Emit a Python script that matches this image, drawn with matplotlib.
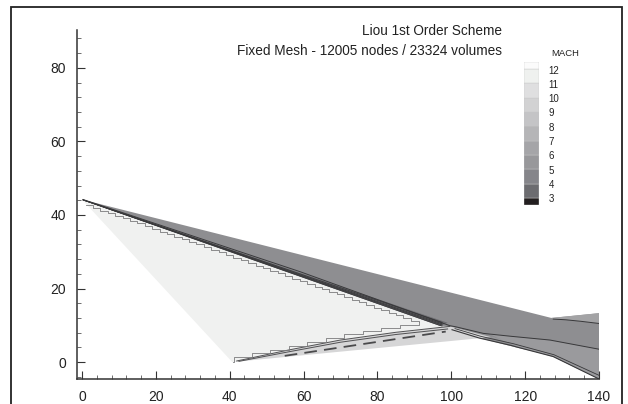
import matplotlib
matplotlib.use("Agg")
import matplotlib.pyplot as plt
from matplotlib.patches import Rectangle
from matplotlib.ticker import MultipleLocator
from matplotlib.transforms import blended_transform_factory

plt.rcParams['font.family'] = ['Liberation Sans', 'DejaVu Sans']

# ---------------- data ----------------
title_1 = "Liou 1st Order Scheme"
title_2 = "Fixed Mesh - 12005 nodes / 23324 volumes"
legend_title = "MACH"
legend_levels = [3, 4, 5, 6, 7, 8, 9, 10, 11, 12]
legend_colors = ['#231f20', '#6c6c70', '#85858a', '#98989b', '#a5a5a8',
                 '#b5b5b7', '#c4c4c6', '#d2d2d3', '#dfdfe0', '#eff1ef', '#fbfbfb']
x_ticks = [0, 20, 40, 60, 80, 100, 120, 140]
y_ticks = [0, 20, 40, 60, 80]

# filled regions (outline x / y)
band_x = [0.0, 127.1, 140.0, 140.0, 127.1, 116.3, 107.7, 100.2, 96.9]
band_y = [44.2, 12.0, 13.3, -4.6, 1.7, 4.3, 6.5, 8.8, 9.7]
right_top_x = [127.1, 140.0, 140.0, 131.0, 127.6]
right_top_y = [12.0, 13.3, 10.5, 11.5, 11.7]
right_low_x = [117.7, 127.6, 140.0, 140.0, 127.1, 116.3, 110.0]
right_low_y = [4.2, 1.4, -4.6, 3.5, 5.8, 7.0, 7.8]
light_x = [0.0, 40.7, 41.9, 56.0, 70.0, 85.0, 99.6, 97.0]
light_y = [44.2, 0.0, 0.3, 3.3, 6.0, 8.1, 9.7, 9.8]
wedge_x = [40.7, 110.9, 116.5, 99.6, 85.0, 70.0, 56.0, 41.9]
wedge_y = [0.0, 6.8, 5.3, 9.7, 8.1, 6.0, 3.3, 0.3]
strip_x = [0.3, 99.0, 97.0, 0.3]
strip_y = [44.2, 10.7, 9.8, 44.0]

# contour lines
dense_end_y = [9.8, 10.1, 10.4, 10.8]
dense_x0, dense_y0, dense_x1 = 0.3, 44.1, 97.5
mid_x = [0.3, 59.0, 99.6, 101.2, 108.7, 116.3, 126.7, 140.0]
mid_y = [44.2, 24.6, 9.9, 9.6, 7.8, 7.0, 6.0, 3.5]
top_r_x = [127.6, 131.0, 135.0, 140.0]
top_r_y = [11.7, 11.5, 11.1, 10.5]
bot_r_x = [100.2, 107.7, 116.3, 117.7, 127.6, 140.0]
bot_r_y = [8.8, 6.5, 4.5, 4.1, 1.5, -4.6]
bot_r2_x = [101.0, 108.0, 116.8, 127.8, 140.0]
bot_r2_y = [9.1, 7.0, 5.0, 2.0, -3.6]
smooth1_x = [41.9, 56.0, 70.0, 85.0, 99.6]
smooth1_y = [0.3, 3.3, 6.0, 8.1, 9.7]
smooth2_x = [42.5, 56.0, 70.0, 85.0, 99.0]
smooth2_y = [0.2, 2.8, 5.4, 7.5, 9.0]
dash_x = [54.9, 98.5]
dash_y = [1.7, 8.3]
step_up_x = [1, 3, 5, 7, 9, 11, 13, 15, 17, 19, 21, 23, 25, 27, 29, 31, 33,
             35, 37, 39, 41, 43, 45, 47, 49, 51, 53, 55, 57, 59, 61, 63, 65,
             67, 69, 71, 73, 75, 77, 79, 81, 83, 85, 87, 89, 91.2]
step_up_y = [42.6, 41.9, 41.2, 40.5, 39.8, 39.1, 38.4, 37.7, 36.9, 36.2, 35.5,
             34.8, 34.1, 33.4, 32.7, 32.0, 31.2, 30.5, 29.8, 29.1, 28.4, 27.7,
             27.0, 26.2, 25.5, 24.8, 24.1, 23.4, 22.7, 22.0, 21.3, 20.5, 19.8,
             19.1, 18.4, 17.7, 17.0, 16.3, 15.6, 14.8, 14.1, 13.4, 12.7, 12.0,
             11.3, 10.9]
step_lo_x = [40.9, 41.2, 46, 51, 56, 61, 66, 71, 76, 81, 86, 91.2]
step_lo_y = [0.1, 1.4, 2.4, 3.4, 4.5, 5.5, 6.6, 7.6, 8.5, 9.4, 10.2, 10.9]

# ---------------- figure ----------------
W, H = 628, 404
fig = plt.figure(figsize=(W / 100, H / 100), dpi=100)
ax = fig.add_axes([77 / W, 25 / H, (599 - 77) / W, (379 - 30) / H])
ax.set_xlim(-1.35, 140)
ax.set_ylim(-4.6, 90.3)

ax.fill(band_x, band_y, color='#8e8e91', lw=0)
ax.fill(right_top_x, right_top_y, color='#a3a3a5', lw=0)
ax.fill(right_low_x, right_low_y, color='#9a9a9d', lw=0)
ax.fill(wedge_x, wedge_y, color='#d6d6d7', lw=0)
ax.fill(light_x, light_y, color='#f0f1f0', lw=0)
ax.fill(strip_x, strip_y, color='#6e6e72', lw=0)

lc = '#38383a'
for ye in dense_end_y:
    ax.plot([dense_x0, dense_x1], [dense_y0, ye], color=lc, lw=0.6)
ax.plot(mid_x, mid_y, color=lc, lw=0.7)
ax.plot(top_r_x, top_r_y, color=lc, lw=0.7)
ax.plot(bot_r_x, bot_r_y, color=lc, lw=0.8)
ax.plot(bot_r2_x, bot_r2_y, color=lc, lw=0.6)
ax.plot(smooth1_x, smooth1_y, color='#505052', lw=0.7)
ax.plot(smooth2_x, smooth2_y, color='#505052', lw=0.7)
ax.plot(dash_x, dash_y, color='#4a4a4c', lw=1.3, dashes=(7, 4))
ax.plot(step_up_x, step_up_y, color='#7a7a7c', lw=0.6, drawstyle='steps-post')
ax.plot(step_lo_x, step_lo_y, color='#7a7a7c', lw=0.6, drawstyle='steps-post')

for s in ['top', 'right']:
    ax.spines[s].set_visible(False)
for s in ['left', 'bottom']:
    ax.spines[s].set_color('#333333')
    ax.spines[s].set_linewidth(1.1)
ax.set_xticks(x_ticks)
ax.set_yticks(y_ticks)
ax.xaxis.set_minor_locator(MultipleLocator(4))
ax.yaxis.set_minor_locator(MultipleLocator(4))
ax.tick_params(which='major', direction='in', length=6, width=0.8, color='#333333',
               labelsize=10, labelcolor='#222222', pad=8)
ax.tick_params(which='minor', direction='in', length=3, width=0.6, color='#555555')
ax.set_facecolor('none')

# titles
fig.text(502 / W, 1 - 31 / H, title_1, ha='right', va='center', fontsize=9.8, color='#222222')
fig.text(502 / W, 1 - 51 / H, title_2, ha='right', va='center', fontsize=9.8, color='#222222')

# legend
lax = fig.add_axes([524 / W, (H - 205) / H, 15 / W, 143 / H])
bottoms = [2.5] + legend_levels
heights = [0.5] + [1] * (len(legend_levels) - 1) + [0.5]
lax.bar([0] * len(bottoms), heights, bottom=bottoms, width=1, color=legend_colors,
        edgecolor='#c8c8c8', linewidth=0.3)
lax.set_xlim(-0.5, 0.5)
lax.set_ylim(2.5, 12.5)
lax.axis('off')
tr = blended_transform_factory(lax.transAxes, lax.transData)
for lv in legend_levels:
    lax.text(1.65, lv - 0.1, str(lv), transform=tr, ha='left', va='center',
             fontsize=7, color='#222222')
fig.text(565 / W, 1 - 53 / H, legend_title, ha='center', va='center', fontsize=6.8, color='#222222')

# frame around the figure
fig.add_artist(Rectangle((11 / W, -0.05), (622 - 11) / W, (H - 7) / H + 0.05,
                         transform=fig.transFigure, fill=False, lw=1.3, ec='#222222'))

fig.savefig('out.png', dpi=100)
